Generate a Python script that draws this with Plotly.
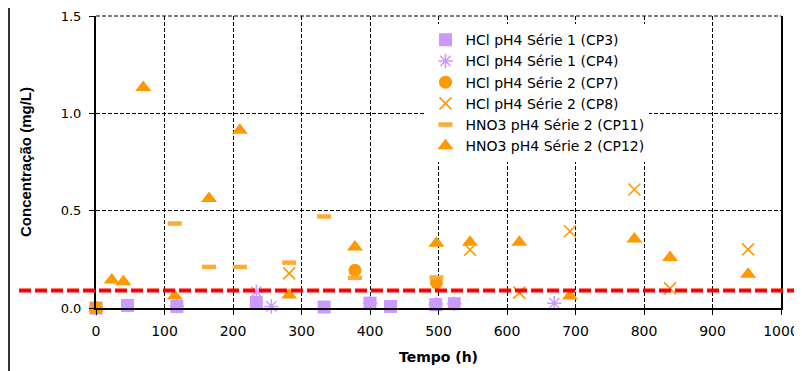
import plotly.graph_objects as go

# ---- data ----
cp3_t = [0, 46, 118, 234, 333, 400, 430, 496, 523]
cp3_c = [0.0, 0.013, 0.008, 0.028, 0.005, 0.025, 0.008, 0.017, 0.022]

cp4_t = [0, 118, 234, 256, 400, 496, 523, 669]
cp4_c = [0.0, 0.01, 0.084, 0.008, 0.025, 0.02, 0.022, 0.025]

cp7_t = [0, 378, 497]
cp7_c = [0.0, 0.194, 0.13]

cp8_t = [0, 282, 546, 618, 692, 786, 838, 952]
cp8_c = [0.0, 0.178, 0.299, 0.079, 0.394, 0.609, 0.101, 0.301]

cp11_t = [0, 115, 165, 210, 282, 333, 378, 497]
cp11_c = [0.0, 0.434, 0.211, 0.211, 0.233, 0.47, 0.155, 0.157]

cp12_t = [0, 23, 40, 69, 115, 165, 210, 282, 378, 497, 546, 618, 692, 786, 838, 952]
cp12_c = [0.0, 0.144, 0.135, 1.133, 0.062, 0.563, 0.913, 0.067, 0.313, 0.333,
          0.338, 0.338, 0.062, 0.355, 0.259, 0.174]

series_names = [
    "HCl pH4 Série 1 (CP3)",
    "HCl pH4 Série 1 (CP4)",
    "HCl pH4 Série 2 (CP7)",
    "HCl pH4 Série 2 (CP8)",
    "HNO3 pH4 Série 2 (CP11)",
    "HNO3 pH4 Série 2 (CP12)",
]
threshold = 0.09
x_ticks = list(range(0, 1001, 100))
y_ticks = [0.0, 0.5, 1.0, 1.5]

PURPLE = "#CC99FF"
ORANGE = "#FF9900"

fig = go.Figure()
fig.add_trace(go.Scatter(x=cp3_t, y=cp3_c, mode="markers", name=series_names[0],
                         marker=dict(symbol="square", size=13, color=PURPLE),
                         cliponaxis=False))
fig.add_trace(go.Scatter(x=cp4_t, y=cp4_c, mode="markers", name=series_names[1],
                         marker=dict(symbol="asterisk-open", size=12, color=PURPLE,
                                     line=dict(color=PURPLE, width=1.5)),
                         cliponaxis=False))
fig.add_trace(go.Scatter(x=cp7_t, y=cp7_c, mode="markers", name=series_names[2],
                         marker=dict(symbol="circle", size=13, color=ORANGE),
                         cliponaxis=False))
fig.add_trace(go.Scatter(x=cp8_t, y=cp8_c, mode="markers", name=series_names[3],
                         marker=dict(symbol="x-thin-open", size=12, color=ORANGE,
                                     line=dict(color=ORANGE, width=1.6)),
                         cliponaxis=False))
fig.add_trace(go.Scatter(x=cp11_t, y=cp11_c, mode="markers", name=series_names[4],
                         marker=dict(symbol="line-ew-open", size=10, color="#FFAA33",
                                     line=dict(color="#FFAA33", width=4.5)),
                         cliponaxis=False))
fig.add_trace(go.Scatter(x=cp12_t, y=cp12_c, mode="markers", name=series_names[5],
                         marker=dict(symbol="triangle-up", size=14, color=ORANGE),
                         cliponaxis=False))

# dashed gridline along the top edge of the plot area (y = 1.5)
fig.add_shape(type="line", xref="paper", yref="paper", x0=0, x1=1, y0=1, y1=1,
              line=dict(color="black", width=1, dash="4px,2px"), layer="below")
# red dashed limit line spanning beyond the plot area
fig.add_shape(type="line", xref="paper", yref="y", x0=-0.1124, x1=1.04,
              y0=threshold, y1=threshold,
              line=dict(color="#FF0000", width=4, dash="12px,4px"), layer="above")
# left border of the chart frame
fig.add_shape(type="line", xref="paper", yref="paper", x0=-0.1270, x1=-0.1270,
              y0=-0.25, y1=1.1, line=dict(color="#333333", width=2))

x_tick_font = dict(family="DejaVu Sans", size=14, color="black")
y_tick_font = dict(family="DejaVu Sans", size=13, color="black")

fig.update_layout(
    template="none",
    width=794, height=363,
    margin=dict(l=88, r=21, t=8, b=63, autoexpand=False),
    paper_bgcolor="white", plot_bgcolor="white",
    showlegend=True,
    legend=dict(x=0.481, y=0.972, xanchor="left", yanchor="top",
                bgcolor="white", borderwidth=0,
                font=dict(family="DejaVu Sans", size=14, color="black"),
                itemclick=False),
    xaxis=dict(range=[0, 1000], tickvals=x_ticks, ticktext=[str(v) for v in x_ticks],
               automargin=False, ticklabeloverflow="allow",
               showgrid=True, gridcolor="black", gridwidth=1, griddash="4px,2px",
               showline=True, linecolor="black", linewidth=2, mirror=False,
               ticks="outside", ticklen=5, tickcolor="black", tickwidth=1,
               tickfont=x_tick_font, zeroline=False, ticklabelstandoff=4,
               title=dict(text="<b>Tempo (h)</b>", standoff=14,
                          font=dict(family="DejaVu Sans", size=14, color="black"))),
    yaxis=dict(range=[0, 1.5], tickvals=y_ticks, tickformat=".1f",
               automargin=False, ticklabeloverflow="allow",
               showgrid=True, gridcolor="black", gridwidth=1, griddash="4px,2px",
               showline=True, linecolor="black", linewidth=2, mirror=True,
               ticks="outside", ticklen=5, tickcolor="black", tickwidth=1,
               tickfont=y_tick_font, zeroline=False, ticklabelstandoff=5,
               title=dict(text="<b>Concentração (mg/L)</b>", standoff=25,
                          font=dict(family="Liberation Sans", size=15, color="black"))),
)

fig.write_html("out.html")
